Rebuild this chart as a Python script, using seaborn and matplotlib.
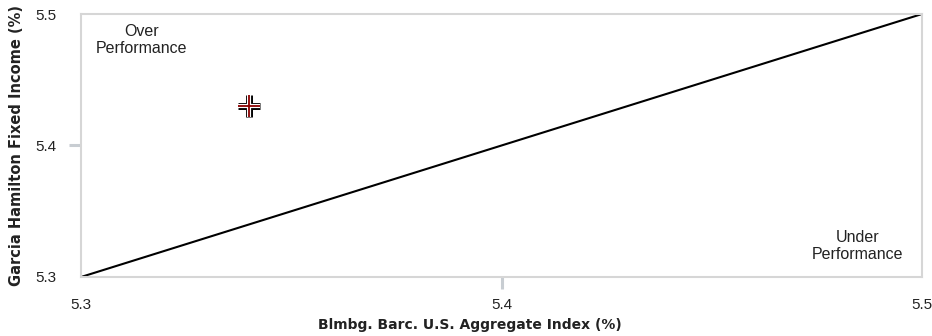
import matplotlib
matplotlib.use('Agg')
import matplotlib.pyplot as plt
import seaborn as sns
import pandas as pd

# ─── Data ─────────────────────────────────────────────────────────────
index_return = [5.34]          # Blmbg. Barc. U.S. Aggregate Index (%)
fund_return = [5.43]           # Garcia Hamilton Fixed Income (%)
diag_vals = [5.3, 5.5]         # equal-performance line
ticks = [5.3, 5.4, 5.5]
x_label = 'Blmbg. Barc. U.S. Aggregate Index (%)'
y_label = 'Garcia Hamilton Fixed Income (%)'

points = pd.DataFrame({'x': index_return, 'y': fund_return})
diag = pd.DataFrame({'x': diag_vals, 'y': diag_vals})

sns.set_theme(style='white')
plt.rcParams['font.family'] = ['Liberation Sans', 'DejaVu Sans']

fig = plt.figure(figsize=(9.32, 3.36), dpi=100)
ax = fig.add_axes([81 / 932, 59 / 336, 841 / 932, 263 / 336])

# diagonal line
sns.lineplot(data=diag, x='x', y='y', color='black', linewidth=1.5, ax=ax, zorder=2)

# plus marker: black outline, white fill, dark red core
for lw, col, z in [(5, 'black', 3), (3, 'white', 4), (1.3, '#8b0000', 5)]:
    sns.scatterplot(data=points, x='x', y='y', marker='+', s=250,
                    linewidth=lw, color=col, ax=ax, zorder=z)

ax.set_xlim(ticks[0], ticks[-1])
ax.set_ylim(ticks[0], ticks[-1])
ax.set_xticks(ticks)
ax.set_yticks(ticks)
ax.set_xticklabels([f'{t:.1f}' for t in ticks])
ax.set_yticklabels([f'{t:.1f}' for t in ticks])

for sp in ax.spines.values():
    sp.set_color('#d6d6d6')
    sp.set_linewidth(1.5)

ax.tick_params(axis='both', which='major', direction='out', length=8.6,
               width=2.2, color='#c8cdd2', labelsize=11, labelcolor='#222222',
               bottom=True, left=True)
ax.tick_params(axis='x', pad=6.5)
ax.tick_params(axis='y', pad=9)
# only the middle tick marks are drawn
for axis in (ax.xaxis, ax.yaxis):
    mt = axis.get_major_ticks()
    for i in (0, len(mt) - 1):
        mt[i].tick1line.set_visible(False)

# axis labels
ax.set_xlabel(x_label, fontsize=10, fontweight='bold', family='DejaVu Sans', color='#222222')
ax.xaxis.set_label_coords(0.4625, -0.155)
ax.set_ylabel(y_label, fontsize=10.5, fontweight='bold', family='DejaVu Sans', color='#222222')
ax.yaxis.set_label_coords(-0.068, 0.5)

# region annotations
ax.text(0.0725, 0.901, 'Over\nPerformance', transform=ax.transAxes,
        ha='center', va='center', fontsize=11.5, color='#222222')
ax.text(0.923, 0.118, 'Under\nPerformance', transform=ax.transAxes,
        ha='center', va='center', fontsize=11.5, color='#222222')

fig.savefig('out.png', dpi=100)
plt.close(fig)
